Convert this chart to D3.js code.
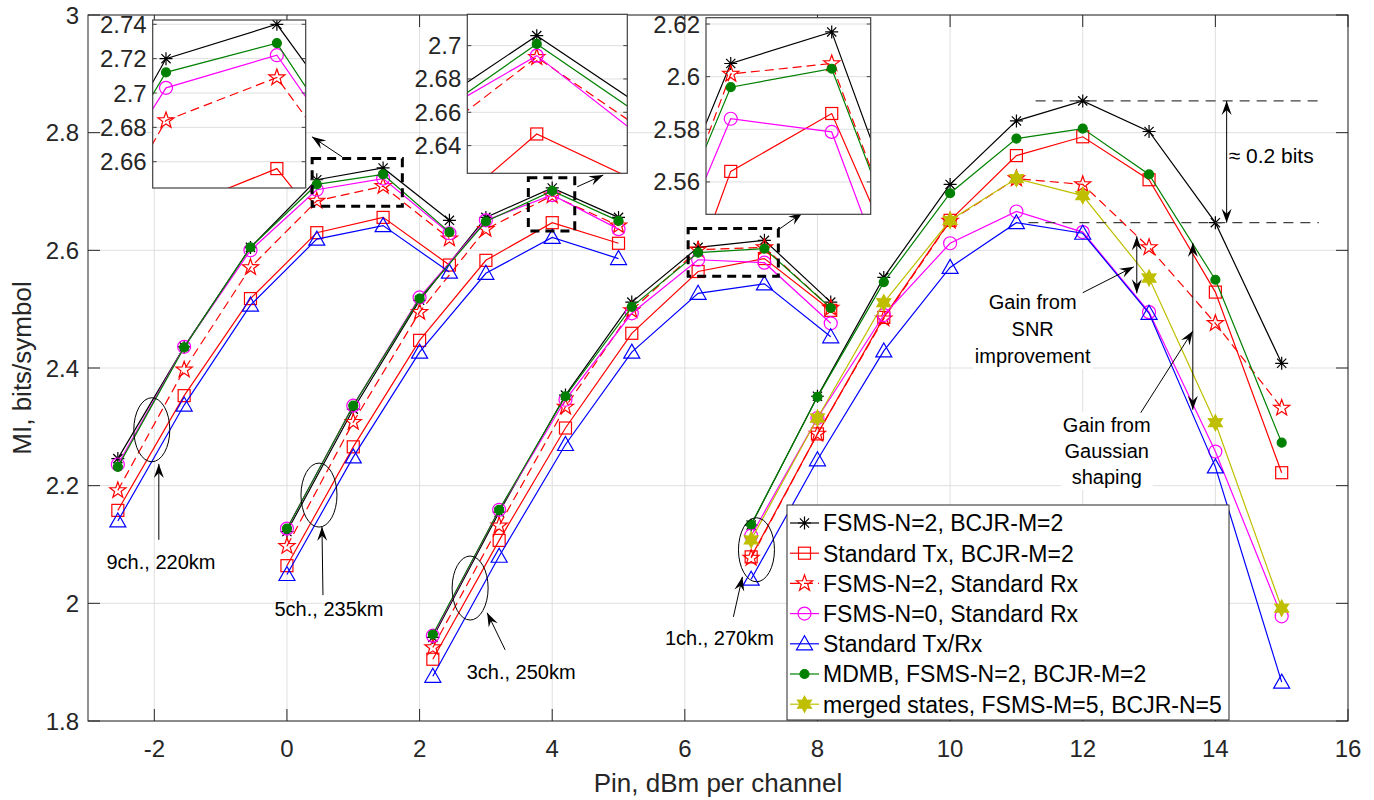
<!DOCTYPE html>
<meta charset="utf-8">
<script src="https://d3js.org/d3.v7.min.js"></script>
<style>
  body { margin: 0; background: #fff; }
  text { font-family: "Liberation Sans", Arial, Helvetica, sans-serif; }
</style>
<div id="chart"></div>
<script>

// launch powers (dBm per channel) of the four link set-ups
var x9ch = [-2.55, -1.55, -0.55, 0.45, 1.45, 2.45];
var x5ch = [0, 1, 2, 3, 4, 5];
var x3ch = [2.2, 3.2, 4.2, 5.2, 6.2, 7.2, 8.2];
var x1ch = [7, 8, 9, 10, 11, 12, 13, 14, 15];
var groupX = [x9ch, x5ch, x3ch, x1ch];

// MI values, one sub array per set-up (9ch, 5ch, 3ch, 1ch)
var fsmsBcjr = [
  [2.246, 2.436, 2.605, 2.720, 2.740, 2.651],
  [2.122, 2.330, 2.515, 2.656, 2.706, 2.656],
  [1.942, 2.155, 2.354, 2.512, 2.605, 2.617, 2.512],
  [2.133, 2.352, 2.554, 2.712, 2.820, 2.854, 2.802, 2.647, 2.408]];
var stdTxBcjr = [
  [2.158, 2.353, 2.518, 2.630, 2.656, 2.575],
  [2.064, 2.266, 2.447, 2.583, 2.647, 2.612],
  [1.905, 2.107, 2.298, 2.459, 2.564, 2.586, 2.498],
  [2.079, 2.288, 2.486, 2.651, 2.761, 2.793, 2.720, 2.529, 2.222]];
var fsmsStdRx = [
  [2.192, 2.397, 2.571, 2.684, 2.709, 2.620],
  [2.097, 2.308, 2.495, 2.636, 2.693, 2.642],
  [1.925, 2.132, 2.334, 2.498, 2.601, 2.605, 2.502],
  [2.077, 2.288, 2.484, 2.650, 2.722, 2.712, 2.605, 2.476, 2.332]];
var fsms0StdRx = [
  [2.236, 2.436, 2.600, 2.703, 2.722, 2.629],
  [2.127, 2.336, 2.520, 2.651, 2.694, 2.636],
  [1.945, 2.159, 2.346, 2.493, 2.584, 2.579, 2.476],
  [2.115, 2.315, 2.490, 2.612, 2.666, 2.631, 2.495, 2.258, 1.978]];
var stdTxRx = [
  [2.140, 2.337, 2.507, 2.619, 2.642, 2.563],
  [2.049, 2.249, 2.427, 2.561, 2.622, 2.586],
  [1.876, 2.080, 2.270, 2.427, 2.527, 2.543, 2.453],
  [2.041, 2.244, 2.429, 2.571, 2.647, 2.629, 2.493, 2.232, 1.866]];
var mdmb = [
  [2.232, 2.435, 2.605, 2.712, 2.729, 2.631],
  [2.127, 2.336, 2.518, 2.649, 2.701, 2.650],
  [1.947, 2.159, 2.352, 2.504, 2.596, 2.603, 2.502],
  [2.134, 2.351, 2.546, 2.697, 2.790, 2.807, 2.729, 2.550, 2.273]];
var merged = [null, null, null,
  [2.108, 2.315, 2.511, 2.651, 2.722, 2.693, 2.553, 2.307, 1.992]];

var legendLabels = ["FSMS-N=2, BCJR-M=2", "Standard Tx, BCJR-M=2", "FSMS-N=2, Standard Rx",
  "FSMS-N=0, Standard Rx", "Standard Tx/Rx", "MDMB, FSMS-N=2, BCJR-M=2",
  "merged states, FSMS-M=5, BCJR-N=5"];
var groupLabels = ["9ch., 220km", "5ch., 235km", "3ch., 250km", "1ch., 270km"];

var xTicks = [-2, 0, 2, 4, 6, 8, 10, 12, 14, 16];
var yTicks = [1.8, 2, 2.2, 2.4, 2.6, 2.8, 3];
var inset1Ticks = [2.66, 2.68, 2.7, 2.72, 2.74];
var inset2Ticks = [2.64, 2.66, 2.68, 2.7];
var inset3Ticks = [2.56, 2.58, 2.6, 2.62];

var series = [
  {values: fsmsBcjr,   color: "#000000", marker: "asterisk"},
  {values: stdTxBcjr,  color: "#ff0000", marker: "square"},
  {values: fsmsStdRx,  color: "#ff0000", marker: "pentagram", dash: "9,5"},
  {values: fsms0StdRx, color: "#ff00ff", marker: "circle"},
  {values: stdTxRx,    color: "#0000ff", marker: "triangle"},
  {values: mdmb,       color: "#008000", marker: "dot"},
  {values: merged,     color: "#bfbf00", marker: "hexagram"}
];

var svg = d3.select("#chart").append("svg")
    .attr("width", 1374).attr("height", 800);

var plot = {left: 88, right: 1348, top: 15, bottom: 721};
var x = d3.scaleLinear().domain([-3, 16]).range([plot.left, plot.right]);
var y = d3.scaleLinear().domain([1.8, 3]).range([plot.bottom, plot.top]);

var axisColor = "#262626", gridColor = "#dfdfdf";

function starPath(n, R, r) {
  var pts = [];
  for (var i = 0; i < 2 * n; i++) {
    var a = -Math.PI / 2 + i * Math.PI / n, rad = i % 2 ? r : R;
    pts.push([rad * Math.cos(a), rad * Math.sin(a)]);
  }
  return "M" + pts.join("L") + "Z";
}

function drawMarker(sel, type, color, px, py) {
  var g = sel.append("g").attr("transform", "translate(" + px + "," + py + ")")
      .attr("stroke", color).attr("stroke-width", 1.2).attr("fill", "none");
  if (type == "asterisk")
    g.append("path").attr("d", "M-6.5,0H6.5M0,-6.5V6.5M-4.6,-4.6L4.6,4.6M-4.6,4.6L4.6,-4.6");
  else if (type == "square")
    g.append("rect").attr("x", -6).attr("y", -6).attr("width", 12).attr("height", 12);
  else if (type == "pentagram")
    g.append("path").attr("d", starPath(5, 8.5, 3.4));
  else if (type == "circle")
    g.append("circle").attr("r", 6.5);
  else if (type == "triangle")
    g.append("path").attr("d", "M0,-8L8,6H-8Z");
  else if (type == "dot")
    g.append("circle").attr("r", 4.5).attr("fill", color);
  else if (type == "hexagram")
    g.append("path").attr("d", starPath(6, 8, 4.4)).attr("fill", color);
}

// draws all series into a group with given scales (markers only inside the limits)
function drawSeries(g, sx, sy) {
  var line = d3.line().x(function(d) { return sx(d[0]); }).y(function(d) { return sy(d[1]); });
  var xd = sx.domain(), yd = sy.domain();
  series.forEach(function(s) {
    s.values.forEach(function(vals, gi) {
      if (!vals) return;
      var pts = vals.map(function(v, i) { return [groupX[gi][i], v]; });
      g.append("path").attr("d", line(pts))
        .attr("fill", "none").attr("stroke", s.color).attr("stroke-width", 1.2)
        .attr("stroke-dasharray", s.dash || null);
      pts.forEach(function(p) {
        if (p[0] < xd[0] || p[0] > xd[1] || p[1] < yd[0] || p[1] > yd[1]) return;
        drawMarker(g, s.marker, s.color, sx(p[0]), sy(p[1]));
      });
    });
  });
}

// ---- main axes
var grid = svg.append("g");
xTicks.forEach(function(t) {
  grid.append("line").attr("x1", x(t)).attr("x2", x(t)).attr("y1", plot.top).attr("y2", plot.bottom)
    .attr("stroke", gridColor);
});
yTicks.forEach(function(t) {
  grid.append("line").attr("y1", y(t)).attr("y2", y(t)).attr("x1", plot.left).attr("x2", plot.right)
    .attr("stroke", gridColor);
});

svg.append("clipPath").attr("id", "mainClip").append("rect")
  .attr("x", plot.left).attr("y", plot.top)
  .attr("width", plot.right - plot.left).attr("height", plot.bottom - plot.top);
var main = svg.append("g").attr("clip-path", "url(#mainClip)");
drawSeries(main, x, y);

// box and ticks
svg.append("rect").attr("x", plot.left).attr("y", plot.top)
  .attr("width", plot.right - plot.left).attr("height", plot.bottom - plot.top)
  .attr("fill", "none").attr("stroke", axisColor).attr("stroke-width", 1);
var tk = svg.append("g").attr("stroke", axisColor);
xTicks.forEach(function(t) {
  tk.append("line").attr("x1", x(t)).attr("x2", x(t)).attr("y1", plot.bottom).attr("y2", plot.bottom - 12);
  tk.append("line").attr("x1", x(t)).attr("x2", x(t)).attr("y1", plot.top).attr("y2", plot.top + 12);
  svg.append("text").attr("x", x(t)).attr("y", 757).attr("text-anchor", "middle")
    .attr("font-size", 24).attr("fill", axisColor).text(String(t));
});
yTicks.forEach(function(t) {
  tk.append("line").attr("y1", y(t)).attr("y2", y(t)).attr("x1", plot.left).attr("x2", plot.left + 12);
  tk.append("line").attr("y1", y(t)).attr("y2", y(t)).attr("x1", plot.right).attr("x2", plot.right - 12);
  svg.append("text").attr("x", plot.left - 9).attr("y", y(t) + 8.5).attr("text-anchor", "end")
    .attr("font-size", 24).attr("fill", axisColor).text(String(t));
});
svg.append("text").attr("x", (plot.left + plot.right) / 2).attr("y", 792).attr("text-anchor", "middle")
  .attr("font-size", 26).attr("fill", axisColor).text("Pin, dBm per channel");
svg.append("text").attr("transform", "translate(31," + ((plot.top + plot.bottom) / 2) + ") rotate(-90)")
  .attr("text-anchor", "middle").attr("font-size", 26).attr("fill", axisColor).text("MI, bits/symbol");

// ---- arrows
function head(g, tx, ty, fx, fy) {
  var a = Math.atan2(ty - fy, tx - fx) * 180 / Math.PI;
  g.append("path").attr("d", "M0,0L-14,-5L-9,0L-14,5Z")
    .attr("transform", "translate(" + tx + "," + ty + ") rotate(" + a + ")")
    .attr("fill", "#000").attr("stroke", "none");
}
function arrow(g, p1, p2, both) {
  var x1 = x(p1[0]), y1 = y(p1[1]), x2 = x(p2[0]), y2 = y(p2[1]);
  g.append("line").attr("x1", x1).attr("y1", y1).attr("x2", x2).attr("y2", y2)
    .attr("stroke", "#000").attr("stroke-width", 1);
  head(g, x2, y2, x1, y1);
  if (both) head(g, x1, y1, x2, y2);
}

var ann = svg.append("g");

// dashed zoom rectangles
var zoomRects = [[0.38, 1.74, 2.675, 2.756], [3.64, 4.34, 2.633, 2.7235], [6.05, 7.41, 2.556, 2.637]];
zoomRects.forEach(function(r) {
  ann.append("rect").attr("x", x(r[0])).attr("y", y(r[3]))
    .attr("width", x(r[1]) - x(r[0])).attr("height", y(r[2]) - y(r[3]))
    .attr("fill", "none").attr("stroke", "#000").attr("stroke-width", 3)
    .attr("stroke-dasharray", "9,6");
});
arrow(ann, [0.83, 2.759], [0.377, 2.793]);
arrow(ann, [4.377, 2.708], [4.77, 2.728]);
arrow(ann, [7.411, 2.635], [7.774, 2.664]);

// ellipses with labels
var ellipses = [[-2.038, 2.295], [0.483, 2.184], [2.762, 2.026], [7.08, 2.091]];
var labelArrows = [
  [[-1.932, 2.108], [-1.932, 2.237]],
  [[0.543, 2.014], [0.528, 2.130]],
  [[3.29, 1.921], [3.019, 1.984]],
  [[6.732, 1.977], [6.868, 2.045]]];
var labelPos = [[-1.9, 2.059], [0.634, 1.979], [3.532, 1.872], [6.521, 1.929]];
ellipses.forEach(function(e, i) {
  ann.append("ellipse").attr("cx", x(e[0])).attr("cy", y(e[1])).attr("rx", 18).attr("ry", 32)
    .attr("fill", "none").attr("stroke", "#000").attr("stroke-width", 1);
  arrow(ann, labelArrows[i][0], labelArrows[i][1]);
  ann.append("text").attr("x", x(labelPos[i][0])).attr("y", y(labelPos[i][1]))
    .attr("text-anchor", "middle").attr("font-size", 20).text(groupLabels[i]);
});

// ---- insets
var insets = [
  {box: [152.7, 20, 153, 168], xd: [0.33, 1.71], yd: [2.6447, 2.7425], ticks: inset1Ticks},
  {box: [467.3, 14.3, 160, 159], xd: [3.44, 4.73], yd: [2.6234, 2.7188], ticks: inset2Ticks},
  {box: [706, 17.7, 164.7, 196.6], xd: [5.955, 7.586], yd: [2.5477, 2.6224], ticks: inset3Ticks}
];
insets.forEach(function(ins, k) {
  var b = ins.box;
  var sx = d3.scaleLinear().domain(ins.xd).range([b[0], b[0] + b[2]]);
  var sy = d3.scaleLinear().domain(ins.yd).range([b[1] + b[3], b[1]]);
  var g = svg.append("g");
  g.append("rect").attr("x", b[0]).attr("y", b[1]).attr("width", b[2]).attr("height", b[3]).attr("fill", "#fff");
  ins.ticks.forEach(function(t) {
    g.append("line").attr("x1", b[0]).attr("x2", b[0] + b[2]).attr("y1", sy(t)).attr("y2", sy(t))
      .attr("stroke", gridColor);
  });
  svg.append("clipPath").attr("id", "inset" + k).append("rect")
    .attr("x", b[0]).attr("y", b[1]).attr("width", b[2]).attr("height", b[3]);
  var inner = g.append("g").attr("clip-path", "url(#inset" + k + ")");
  drawSeries(inner, sx, sy);
  g.append("rect").attr("x", b[0]).attr("y", b[1]).attr("width", b[2]).attr("height", b[3])
    .attr("fill", "none").attr("stroke", "#404040").attr("stroke-width", 1.2);
  ins.ticks.forEach(function(t) {
    g.append("line").attr("x1", b[0]).attr("x2", b[0] + 4).attr("y1", sy(t)).attr("y2", sy(t)).attr("stroke", "#404040");
    g.append("line").attr("x1", b[0] + b[2]).attr("x2", b[0] + b[2] - 4).attr("y1", sy(t)).attr("y2", sy(t)).attr("stroke", "#404040");
    g.append("text").attr("x", b[0] - 6).attr("y", sy(t) + 8.5).attr("text-anchor", "end")
      .attr("font-size", 24).attr("fill", axisColor).text(String(t));
  });
});

// ---- right hand annotations
var peakLine = 2.854, lowLine = 2.647;
[[peakLine, 11.29], [lowLine, 11.18]].forEach(function(h) {
  ann.append("line").attr("x1", x(h[1])).attr("x2", x(15.56)).attr("y1", y(h[0])).attr("y2", y(h[0]))
    .attr("stroke", "#404040").attr("stroke-width", 1.2).attr("stroke-dasharray", "10,7");
});
arrow(ann, [14.17, lowLine], [14.17, peakLine], true);
ann.append("text").attr("x", x(14.2)).attr("y", y(2.748)).attr("font-size", 21).text("\u2248 0.2 bits");

function textBlock(lines, cx, baselines, pad) {
  var g = svg.append("g");
  var bg = g.append("rect").attr("fill", "#fff");
  lines.forEach(function(s, i) {
    g.append("text").attr("x", x(cx)).attr("y", y(baselines[i]))
      .attr("text-anchor", "middle").attr("font-size", 20).text(s);
  });
  var bb = g.node().getBBox();
  bg.attr("x", bb.x - pad).attr("y", bb.y - 2).attr("width", bb.width + 2 * pad).attr("height", bb.height + 4);
}
textBlock(["Gain from", "SNR", "improvement"], 11.245, [2.5004, 2.4545, 2.4087], 2);
textBlock(["Gain from", "Gaussian", "shaping"], 12.362, [2.291, 2.247, 2.203], 2);

arrow(svg, [12.815, 2.527], [12.815, 2.624], true);
arrow(svg, [12.0, 2.528], [12.77, 2.572]);
arrow(svg, [13.66, 2.329], [13.66, 2.6126], true);
arrow(svg, [12.875, 2.324], [13.66, 2.463]);

// ---- legend
var lg = svg.append("g");
lg.append("rect").attr("x", 787).attr("y", 505).attr("width", 442).attr("height", 215)
  .attr("fill", "#fff").attr("stroke", axisColor).attr("stroke-width", 1);
series.forEach(function(s, i) {
  var ly = 523 + i * 30.2;
  lg.append("line").attr("x1", 790).attr("x2", 819).attr("y1", ly).attr("y2", ly)
    .attr("stroke", s.color).attr("stroke-width", 1.2).attr("stroke-dasharray", s.dash || null);
  drawMarker(lg, s.marker, s.color, 804.5, ly);
  lg.append("text").attr("x", 823).attr("y", ly + 8.3).attr("font-size", 23).text(legendLabels[i]);
});

</script>
